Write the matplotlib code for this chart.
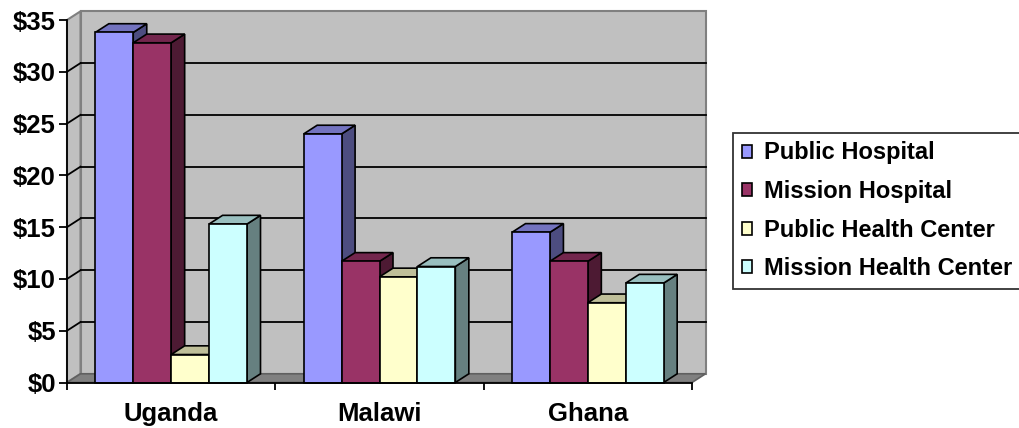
import matplotlib
matplotlib.use("Agg")
import matplotlib.pyplot as plt
from matplotlib.patches import Polygon, Patch
from matplotlib.colors import to_rgb

plt.rcParams['font.family'] = ['Liberation Sans', 'DejaVu Sans']
plt.rcParams['font.weight'] = 'bold'

# Data (cost in US$)
countries = ["Uganda", "Malawi", "Ghana"]
series = ["Public Hospital", "Mission Hospital", "Public Health Center", "Mission Health Center"]
public_hospital = [33.8, 24.0, 14.5]
mission_hospital = [32.8, 11.7, 11.7]
public_health_center = [2.7, 10.2, 7.7]
mission_health_center = [15.3, 11.2, 9.6]
y_ticks = [0, 5, 10, 15, 20, 25, 30, 35]

values = [public_hospital, mission_hospital, public_health_center, mission_health_center]
colors = ['#9999FF', '#993366', '#FFFFCC', '#CCFFFF']


def shade(c, f):
    r, g, b = to_rgb(c)
    return (r * f, g * f, b * f)


fig = plt.figure(figsize=(10.19, 4.28), dpi=100)
ax = fig.add_axes([67 / 1019, (428 - 382.5) / 428, 625 / 1019, 362.5 / 428])
ax.set_xlim(0, 3)
ax.set_ylim(0, 35)
ax.set_facecolor('none')

# depth of the 3-D look, in data units
DX = 13.5 / (625 / 3)
DY = 8.7 / (362.5 / 35)
ymax = 35

# walls and floor
ax.add_patch(Polygon([(DX, DY), (3 + DX, DY), (3 + DX, ymax + DY), (DX, ymax + DY)],
                     closed=True, facecolor='#C0C0C0', edgecolor='#808080', lw=1.5,
                     zorder=0, clip_on=False))
ax.add_patch(Polygon([(0, 0), (DX, DY), (DX, ymax + DY), (0, ymax)],
                     closed=True, facecolor='#C0C0C0', edgecolor='#808080', lw=1.5,
                     zorder=0, clip_on=False))
ax.add_patch(Polygon([(0, 0), (3, 0), (3 + DX, DY), (DX, DY)],
                     closed=True, facecolor='#808080', edgecolor='#606060', lw=1.2,
                     zorder=0.5, clip_on=False))

# gridlines on back wall + side wall
for v in y_ticks[1:-1]:
    ax.plot([DX, 3 + DX], [v + DY, v + DY], color='black', lw=1.3, zorder=1, clip_on=False)
    ax.plot([0, DX], [v, v + DY], color='black', lw=1.3, zorder=1, clip_on=False)

# bars, drawn left to right so each front face covers the previous side face
width = 0.182
offset = 0.136
for c in range(len(countries)):
    for s in range(len(series)):
        k = c * 4 + s
        z = 2 + k * 0.01
        h = values[s][c]
        x0 = c + offset + s * width
        x1 = x0 + width
        ax.add_patch(Polygon([(x1, 0), (x1 + DX, DY), (x1 + DX, h + DY), (x1, h)],
                             closed=True, facecolor=shade(colors[s], 0.5),
                             edgecolor='black', lw=1.2, zorder=z, clip_on=False))
        ax.add_patch(Polygon([(x0, h), (x0 + DX, h + DY), (x1 + DX, h + DY), (x1, h)],
                             closed=True, facecolor=shade(colors[s], 0.75),
                             edgecolor='black', lw=1.2, zorder=z, clip_on=False))
        ax.bar(x0, h, width=width, align='edge', color=colors[s], edgecolor='black',
               lw=1.2, zorder=z + 0.005, clip_on=False)

# axes
for side in ['top', 'right']:
    ax.spines[side].set_visible(False)
for side in ['left', 'bottom']:
    ax.spines[side].set_color('black')
    ax.spines[side].set_linewidth(1.3)
    ax.spines[side].set_zorder(5)

ax.set_yticks(y_ticks)
ax.set_yticklabels([f"${v}" for v in y_ticks])
ax.tick_params(axis='y', direction='out', length=6, width=1.3, pad=2, labelsize=18.5)

ax.set_xticks([0, 1, 2, 3])
ax.set_xticklabels([])
ax.set_xticks([0.5, 1.5, 2.5], minor=True)
ax.set_xticklabels(countries, minor=True)
ax.tick_params(axis='x', which='major', direction='out', length=5, width=1.3)
ax.tick_params(axis='x', which='minor', length=0, pad=14, labelsize=18.5)

handles = [Patch(facecolor=col, edgecolor='black', lw=1.2) for col in colors]
leg = fig.legend(handles, series, loc='upper left', bbox_to_anchor=(733 / 1019, 1 - 133 / 428),
                 bbox_transform=fig.transFigure, borderaxespad=0, fontsize=17,
                 handlelength=0.46, handleheight=0.46, handletextpad=0.5,
                 labelspacing=0.66, borderpad=0.36, fancybox=False, frameon=True)
leg.get_frame().set_edgecolor('black')
leg.get_frame().set_linewidth(1.3)

fig.savefig("out.png", dpi=100, facecolor='white')
